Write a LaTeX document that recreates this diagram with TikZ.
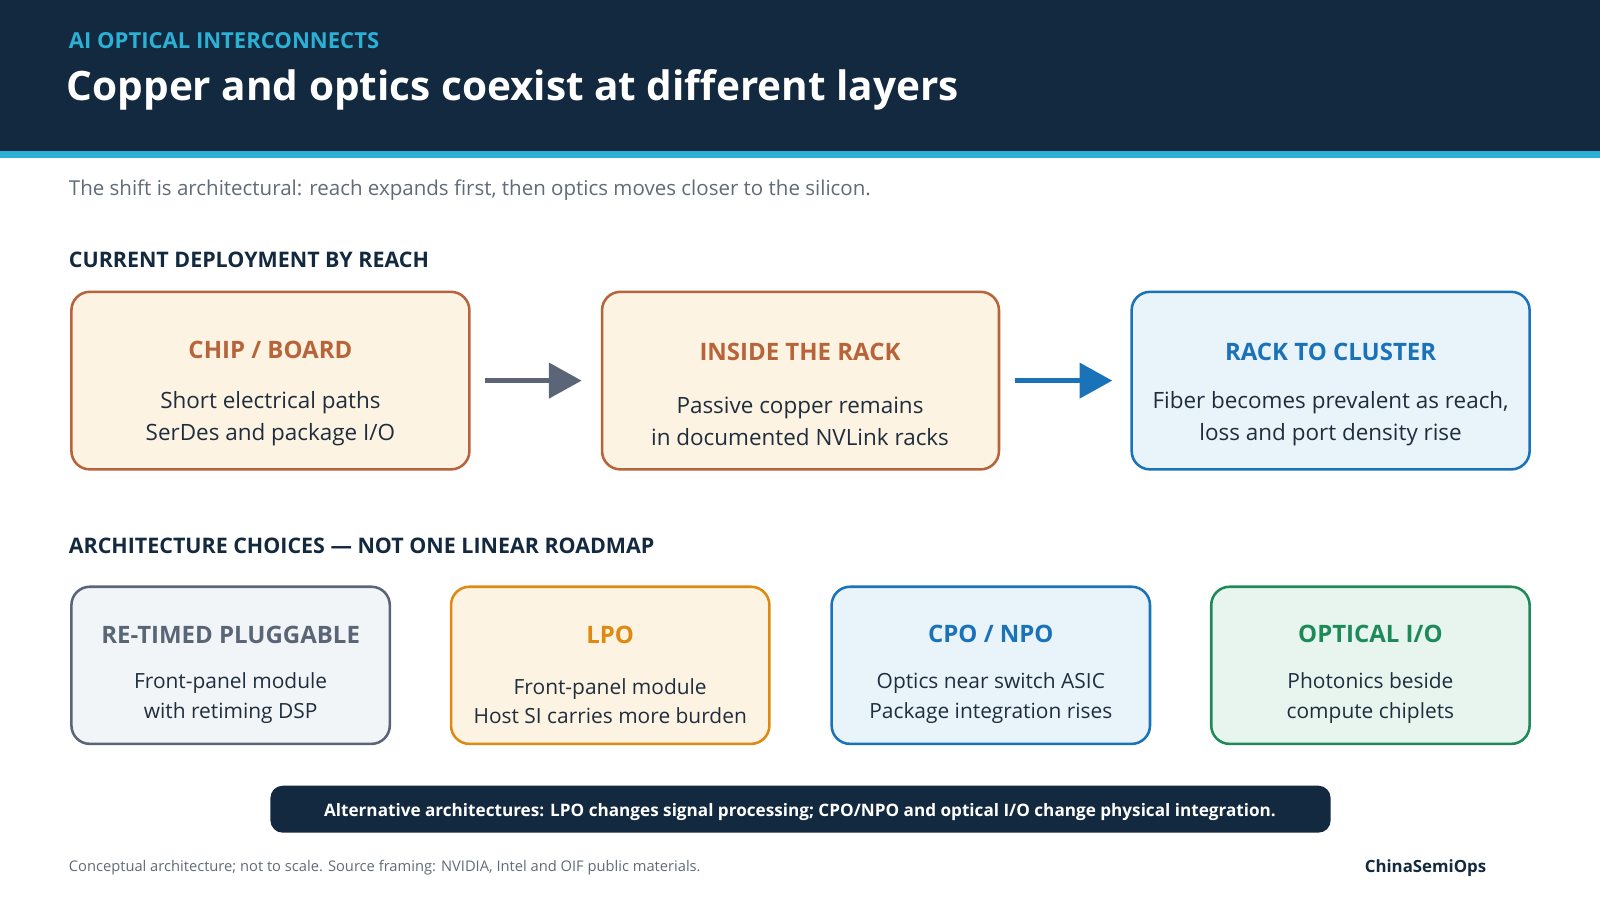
\documentclass[tikz,border=0pt]{standalone}
\usepackage{fontspec}
\setmainfont{Open Sans}
\usetikzlibrary{arrows.meta}
\definecolor{navy}{HTML}{13293F}
\definecolor{cyanband}{HTML}{2BB0D6}
\definecolor{rust}{HTML}{B8643A}
\definecolor{rustfill}{HTML}{FDF3E3}
\definecolor{blueline}{HTML}{1A72B8}
\definecolor{bluefill}{HTML}{E9F3FA}
\definecolor{slate}{HTML}{5A6677}
\definecolor{slatefill}{HTML}{F2F5F8}
\definecolor{amber}{HTML}{DE8A12}
\definecolor{amberfill}{HTML}{FDF3E3}
\definecolor{green}{HTML}{1E8A5A}
\definecolor{greenfill}{HTML}{E8F5EE}
\definecolor{bodytext}{HTML}{1F2D3D}
\definecolor{subgray}{HTML}{5F6B78}
\begin{document}
\begin{tikzpicture}[x=1pt,y=-1pt,
        box/.style = {draw, line width=2.5pt, rounded corners=18pt},
        head/.style = {font=\fontsize{23.5}{28}\selectfont\bfseries},
        body/.style = {font=\fontsize{22}{31}\selectfont, text=bodytext, align=center},
        sbody/.style = {font=\fontsize{20.5}{29}\selectfont, text=bodytext, align=center},
        section/.style = {anchor=west, text=navy, font=\fontsize{21}{24}\selectfont\bfseries},
        flow/.style = {line width=5pt, -{Triangle[length=32pt,width=34pt]}}]

        % Header
        \useasboundingbox (0,0) rectangle (1568,882);
        \fill[navy] (0,0) rectangle (1568,148);
        \fill[cyanband] (0,148) rectangle (1568,155);
        \node[anchor=west, text=cyanband, font=\fontsize{21.6}{24}\selectfont\bfseries] (kicker) at (64,40) {AI OPTICAL INTERCONNECTS};
        \node[anchor=west, text=white, font=\fontsize{39.7}{46}\selectfont\bfseries] (title) at (62,88) {Copper and optics coexist at different layers};
        \node[anchor=west, text=subgray, font=\fontsize{20.1}{24}\selectfont] (sub) at (64,186) {The shift is architectural: reach expands first, then optics moves closer to the silicon.};

        % Deployment by reach
        \node[section] (sec1) at (64,255) {CURRENT DEPLOYMENT BY REACH};

        \draw[box, rust, fill=rustfill] (70,286) rectangle (460,460);
        \node[head, text=rust] (chip) at (265,343) {CHIP / BOARD};
        \node[body] (chipt) at (265,410) {Short electrical paths\\SerDes and package I/O};

        \draw[box, rust, fill=rustfill] (590,286) rectangle (979,460);
        \node[head, text=rust] (rack) at (784,345) {INSIDE THE RACK};
        \node[body] (rackt) at (784,413) {Passive copper remains\\in documented NVLink racks};

        \draw[box, blueline, fill=bluefill] (1109,286) rectangle (1499,460);
        \node[head, text=blueline] (clus) at (1304,345) {RACK TO CLUSTER};
        \node[body] (clust) at (1304,410) {Fiber becomes prevalent as reach,\\loss and port density rise};

        \coordinate (a1) at (475,373); \coordinate (a2) at (570,373);
        \coordinate (b1) at (995,373); \coordinate (b2) at (1090,373);
        \draw[flow, slate] (a1) -- (a2);
        \draw[flow, blueline] (b1) -- (b2);

        % Architecture choices
        \node[section] (sec2) at (64,535) {ARCHITECTURE CHOICES — NOT ONE LINEAR ROADMAP};

        \draw[box, slate, fill=slatefill] (70,575) rectangle (382,729);
        \node[head, text=slate] (plug) at (226,622) {RE-TIMED PLUGGABLE};
        \node[sbody] (plugt) at (226,684) {Front-panel module\\with retiming DSP};

        \draw[box, amber, fill=amberfill] (442,575) rectangle (754,729);
        \node[head, text=amber] (lpo) at (598,622) {LPO};
        \node[sbody] (lpot) at (598,687) {Front-panel module\\Host SI carries more burden};

        \draw[box, blueline, fill=bluefill] (815,575) rectangle (1127,729);
        \node[head, text=blueline] (cpo) at (971,621) {CPO / NPO};
        \node[sbody] (cpot) at (971,684) {Optics near switch ASIC\\Package integration rises};

        \draw[box, green, fill=greenfill] (1187,575) rectangle (1499,729);
        \node[head, text=green] (oio) at (1343,621) {OPTICAL I/O};
        \node[sbody] (oiot) at (1343,684) {Photonics beside\\compute chiplets};

        % Banner and footer
        \fill[navy, rounded corners=12pt] (265,770) rectangle (1304,816);
        \node[text=white, font=\fontsize{16.8}{20}\selectfont\bfseries] (banner) at (784,796) {Alternative architectures: LPO changes signal processing; CPO/NPO and optical I/O change physical integration.};
        \node[anchor=west, text=subgray, font=\fontsize{14.4}{17}\selectfont] (foot) at (64,850) {Conceptual architecture; not to scale. Source framing: NVIDIA, Intel and OIF public materials.};
        \node[text=navy, font=\fontsize{16.5}{20}\selectfont\bfseries] (brand) at (1397,851) {ChinaSemiOps};
    \end{tikzpicture}
\end{document}
